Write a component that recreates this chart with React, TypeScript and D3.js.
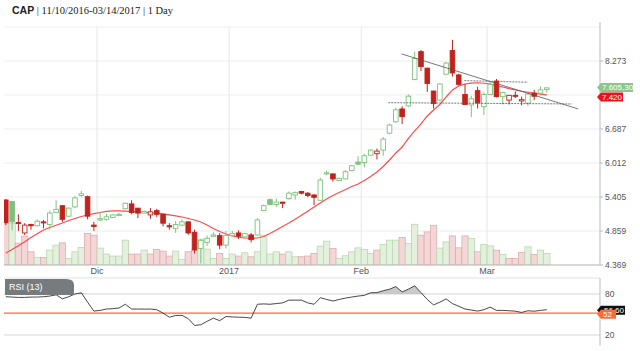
import React from 'react';
import * as d3 from 'd3';

// header
const symbol = 'CAP';
const range = '11/10/2016-03/14/2017';
const period = '1 Day';

// daily OHLC, 11/10/2016 .. 03/14/2017
const opens = [5.355, 5.33, 4.99, 4.83, 4.96, 4.94, 5.0, 4.96, 5.15, 5.26, 5.09, 5.24, 5.43, 5.41, 4.95, 5.03, 5.04, 5.07, 5.1, 5.21, 5.29, 5.22, 5.14, 5.11, 5.18, 5.12, 4.94, 4.9, 4.95, 5.0, 4.84, 4.6, 4.69, 4.78, 4.79, 4.65, 4.79, 4.83, 4.77, 4.8, 4.8, 5.18, 5.36, 5.28, 5.32, 5.38, 5.44, 5.5, 5.47, 5.44, 5.35, 5.81, 5.81, 5.69, 5.72, 5.87, 6.03, 6.02, 6.16, 6.19, 6.26, 6.6, 6.84, 7.12, 7.19, 7.81, 8.52, 8.09, 7.53, 7.32, 7.94, 8.55, 7.92, 7.45, 7.21, 7.54, 7.17, 7.45, 7.77, 7.4, 7.32, 7.43, 7.3, 7.25, 7.48, 7.48, 7.57];
const highs = [5.37, 5.34, 5.12, 4.98, 4.97, 5.04, 5.03, 5.18, 5.35, 5.27, 5.23, 5.42, 5.51, 5.43, 5.0, 5.16, 5.13, 5.12, 5.14, 5.31, 5.35, 5.22, 5.18, 5.22, 5.21, 5.13, 4.98, 5.01, 5.04, 5.01, 4.88, 4.74, 4.79, 4.84, 4.83, 4.86, 4.86, 4.87, 4.83, 4.83, 5.06, 5.28, 5.38, 5.38, 5.32, 5.5, 5.5, 5.51, 5.49, 5.45, 5.74, 5.87, 5.82, 5.74, 5.88, 5.98, 6.14, 6.19, 6.28, 6.29, 6.52, 6.8, 7.15, 7.18, 7.45, 8.52, 8.56, 8.1, 7.54, 7.72, 8.25, 8.84, 7.95, 7.7, 7.42, 7.63, 7.5, 7.74, 7.82, 7.51, 7.44, 7.52, 7.4, 7.48, 7.56, 7.64, 7.62];
const lows = [4.95, 4.87, 4.86, 4.8, 4.88, 4.93, 4.9, 4.88, 5.14, 5.0, 5.08, 5.22, 5.41, 5.04, 4.86, 5.01, 5.02, 5.06, 5.09, 5.2, 5.12, 5.06, 5.13, 5.05, 5.08, 4.93, 4.88, 4.83, 4.93, 4.8, 4.53, 4.39, 4.64, 4.77, 4.59, 4.6, 4.78, 4.74, 4.76, 4.69, 4.79, 5.17, 5.27, 5.24, 5.22, 5.36, 5.36, 5.45, 5.4, 5.27, 5.34, 5.79, 5.67, 5.68, 5.71, 5.86, 5.97, 5.93, 6.15, 6.08, 6.15, 6.58, 6.82, 6.79, 7.17, 7.79, 8.02, 7.51, 7.13, 7.3, 7.92, 7.88, 7.66, 7.21, 6.94, 7.13, 6.99, 7.44, 7.38, 7.22, 7.22, 7.37, 7.2, 7.19, 7.32, 7.46, 7.49];
const closes = [4.99, 5.0, 4.975, 4.95, 4.94, 5.01, 4.99, 5.14, 5.2, 5.04, 5.22, 5.39, 5.46, 5.09, 4.93, 5.05, 5.08, 5.11, 5.12, 5.3, 5.15, 5.14, 5.165, 5.16, 5.12, 4.98, 4.93, 4.96, 5.0, 4.83, 4.58, 4.72, 4.75, 4.8, 4.65, 4.79, 4.82, 4.78, 4.82, 4.73, 5.03, 5.26, 5.28, 5.32, 5.3, 5.47, 5.48, 5.47, 5.43, 5.4, 5.7, 5.83, 5.72, 5.73, 5.85, 5.96, 5.99, 6.15, 6.26, 6.24, 6.48, 6.77, 7.1, 6.95, 7.41, 8.34, 8.13, 7.71, 7.24, 7.7, 8.22, 7.97, 7.69, 7.22, 7.35, 7.26, 7.45, 7.69, 7.4, 7.5, 7.43, 7.41, 7.33, 7.46, 7.41, 7.56, 7.605];
const closeBefore = 5.4;
// volume, millions
const volumes = [4.17, 4.2, 2.2, 2.9, 1.33, 0.77, 0.77, 1.5, 2.0, 2.23, 0.67, 1.33, 1.77, 3.17, 3.0, 1.7, 1.1, 0.9, 0.9, 2.5, 1.1, 1.1, 1.5, 1.1, 1.57, 1.4, 0.9, 1.4, 0.57, 1.33, 1.5, 2.6, 1.6, 0.67, 1.17, 0.67, 1.1, 0.9, 1.23, 0.83, 1.33, 3.0, 1.1, 1.33, 1.1, 1.33, 0.83, 0.83, 0.9, 1.17, 1.9, 2.4, 1.67, 0.67, 0.93, 1.33, 1.73, 1.57, 1.17, 1.5, 2.07, 2.5, 2.5, 2.77, 2.17, 4.1, 3.0, 3.33, 4.0, 1.7, 2.33, 2.93, 1.73, 2.93, 2.67, 1.33, 2.07, 1.93, 1.5, 1.07, 0.67, 0.67, 1.27, 1.83, 1.07, 1.5, 1.17];
// moving average
const maValues = [4.536, 4.586, 4.641, 4.698, 4.76, 4.819, 4.875, 4.913, 4.947, 4.983, 5.022, 5.054, 5.085, 5.109, 5.13, 5.149, 5.166, 5.174, 5.174, 5.17, 5.164, 5.157, 5.151, 5.145, 5.138, 5.128, 5.112, 5.096, 5.077, 5.054, 5.03, 4.998, 4.952, 4.898, 4.852, 4.814, 4.784, 4.765, 4.754, 4.75, 4.754, 4.777, 4.822, 4.875, 4.929, 4.983, 5.042, 5.104, 5.17, 5.239, 5.305, 5.372, 5.431, 5.482, 5.534, 5.586, 5.63, 5.692, 5.764, 5.846, 5.947, 6.069, 6.204, 6.321, 6.492, 6.646, 6.793, 6.966, 7.098, 7.221, 7.392, 7.556, 7.651, 7.699, 7.719, 7.728, 7.717, 7.699, 7.663, 7.627, 7.587, 7.556, 7.525, 7.502, 7.48, 7.46, 7.44];
// RSI (13)
const rsiValues = [76, 75.5, 75, 75, 75.5, 75.5, 76, 77, 78.8, 73, 76, 80, 81.8, 68, 55, 56, 58, 58.5, 59.5, 65, 58, 58, 57.8, 58, 57, 52, 46, 48.5, 48.8, 44, 34, 35, 40, 44.6, 41, 47, 46.5, 46, 45.8, 44.6, 65, 65.5, 65, 66, 67, 71, 71, 71, 67, 65, 74.6, 72, 69.8, 72, 74, 75.5, 77, 78, 81.8, 82, 84.8, 87, 90.8, 83, 87, 92, 82, 72, 64, 68, 72.8, 66, 62, 58, 56.5, 55, 57, 60.8, 56, 56, 55.5, 54.8, 53, 55.5, 54.8, 56, 57];

const priceTicks = [4.369, 4.859, 5.405, 6.012, 6.687, 7.439, 8.273];
const hiddenTick = 7.439; // covered by the price tags in the reference
const monthLabels = ['Dic', '2017', 'Feb', 'Mar'];
const monthStarts = [15, 36, 57, 77];
const rsiTicks = [20, 80];
const rsiLevel = 52;

// drawn trend lines (bar index, price)
const trendFromIdx = [62.94, 60.8, 72.9];
const trendFromPrice = [8.457, 7.261, 7.78];
const trendToIdx = [91.0, 89.97, 82.97];
const trendToPrice = [7.12, 7.232, 7.741];
const trendDashed = [false, true, true];

const lastTag = '7.605,30';
const maTag = '7.420';
const rsiTag = '56.60';

const GREEN = '#7cc27c';
const RED = '#c1221c';
const SANS = '"Liberation Sans", Arial, sans-serif';
const SERIF = '"Liberation Serif", Georgia, serif';

function tagPath(x: number, y: number, w: number) {
  return `M${x},${y} L${x + 4},${y - 4.5} L${x + w},${y - 4.5} L${x + w},${y + 4.5} L${x + 4},${y + 4.5} Z`;
}

export default function App() {
  const left = 4, right = 600, top = 27, bottom = 265;
  const rTop = 278, rBottom = 346;

  const x = d3.scaleLinear().domain([0, 86]).range([5.8, 546.8]);
  const step = x(1) - x(0);
  const y = d3.scaleLog().domain([4.369, 8.273]).range([265, 61]);
  const yVol = d3.scaleLinear().domain([0, d3.max(volumes) as number]).range([bottom, bottom - 41.7]);
  const yR = d3.scaleLinear().domain([20, 80]).range([335, 294]);

  const maLine = d3.line<number>().x((_, i) => x(i)).y(d => y(d))(maValues) as string;
  const rsiLine = d3.line<number>().x((_, i) => x(i)).y(d => yR(d))(rsiValues) as string;
  const rsiArea = d3.area<number>().x((_, i) => x(i)).y0(yR(80)).y1(d => yR(Math.max(d, 80)))(rsiValues) as string;

  const bodyW = 4.6;
  const yLast = y(closes[closes.length - 1]) - 0.5;
  const yMa = yLast + 9.5;
  const yRsiLevel = yR(rsiLevel) + 1;
  const yRsiLast = yRsiLevel - 4;

  return (
    <div style={{ position: 'absolute', left: 0, top: 0 }}>
      <svg width={640} height={351} style={{ display: 'block', background: '#fff' }}>
        <defs>
          <clipPath id="main-clip">
            <rect x={left} y={top} width={right - left} height={bottom - top} />
          </clipPath>
          <clipPath id="rsi-clip">
            <rect x={left} y={rTop} width={right - left} height={rBottom - rTop} />
          </clipPath>
        </defs>

        <text x={12} y={14} fontSize={10.5} fill="#222">
          <tspan fontFamily={SANS} fontWeight="bold">{symbol}</tspan>
          <tspan fontFamily={SERIF}>{` | ${range} | ${period}`}</tspan>
        </text>

        {/* grid */}
        <line x1={left} x2={right} y1={top} y2={top} stroke="#eeeeee" />
        {priceTicks.map(t => (
          <line key={t} x1={left} x2={right} y1={y(t)} y2={y(t)} stroke="#ececec" />
        ))}
        {monthStarts.map(m => (
          <line key={m} x1={x(m - 0.5)} x2={x(m - 0.5)} y1={top} y2={bottom} stroke="#e6e6e6" />
        ))}

        <g clipPath="url(#main-clip)">
          {/* volume */}
          {volumes.map((v, i) => {
            const prev = i === 0 ? closeBefore : closes[i - 1];
            const up = closes[i] >= prev;
            return (
              <rect key={i} x={x(i) - step / 2} y={yVol(v)} width={step} height={bottom - yVol(v)}
                fill={up ? '#e3f0de' : '#f5d6d6'} stroke={up ? '#b9d7b1' : '#dbaeae'} strokeWidth={0.8} />
            );
          })}

          <path d={maLine} fill="none" stroke="#ff4a4a" strokeWidth={1.2} />

          {/* candles */}
          {closes.map((c, i) => {
            const o = opens[i];
            const prev = i === 0 ? closeBefore : closes[i - 1];
            const col = c >= prev ? GREEN : RED;
            const filled = c < o;
            const yTop = y(Math.max(o, c));
            const yBot = y(Math.min(o, c));
            const h = Math.max(yBot - yTop, 1);
            return (
              <g key={i}>
                <line x1={x(i)} x2={x(i)} y1={y(highs[i])} y2={y(lows[i])} stroke={col} strokeWidth={1} />
                <rect x={x(i) - bodyW / 2} y={yTop} width={bodyW} height={h}
                  fill={filled ? col : '#fff'} stroke={col} strokeWidth={0.9} />
              </g>
            );
          })}

          {trendFromIdx.map((f, k) => (
            <line key={k} x1={x(f)} y1={y(trendFromPrice[k])} x2={x(trendToIdx[k])} y2={y(trendToPrice[k])}
              stroke="#555" strokeWidth={0.8} strokeDasharray={trendDashed[k] ? '2,1' : undefined} />
          ))}
        </g>

        {/* right axis */}
        <line x1={right} x2={right} y1={top - 5} y2={bottom} stroke="#bbb" />
        <line x1={left} x2={right} y1={bottom} y2={bottom} stroke="#bbb" />
        {priceTicks.map(t => (
          <g key={t}>
            <line x1={right} x2={right + 3} y1={y(t)} y2={y(t)} stroke="#bbb" />
            {t !== hiddenTick && (
              <text x={right + 5} y={y(t) + 3} fontSize={8.5} fontFamily={SANS} fill="#555">{t.toFixed(3)}</text>
            )}
          </g>
        ))}
        {monthStarts.map((m, k) => (
          <text key={m} x={x(m - 0.5)} y={274} fontSize={9} fontFamily={SANS} fill="#555" textAnchor="middle">
            {monthLabels[k]}
          </text>
        ))}

        {/* price tags */}
        <path d={tagPath(597, yLast, 36)} fill="#8cc68c" />
        <text x={602} y={yLast + 3} fontSize={8} fontFamily={SANS} fill="#fff">{lastTag}</text>
        <path d={tagPath(597, yMa, 26)} fill="#e8141b" />
        <text x={602} y={yMa + 3} fontSize={8} fontFamily={SANS} fill="#fff">{maTag}</text>

        {/* RSI panel */}
        <line x1={left} x2={right} y1={rTop} y2={rTop} stroke="#e2e2e2" />
        {rsiTicks.map(t => (
          <g key={t}>
            <line x1={left} x2={right} y1={yR(t)} y2={yR(t)} stroke="#d6d6d6" />
            <text x={right + 5} y={yR(t) + 3} fontSize={8.5} fontFamily={SANS} fill="#555">{t}</text>
          </g>
        ))}
        <line x1={right} x2={right} y1={rTop} y2={rBottom} stroke="#bbb" />
        <g clipPath="url(#rsi-clip)">
          <path d={rsiArea} fill="#bdbdbd" opacity={0.8} />
          <line x1={left} x2={right} y1={yR(rsiLevel)} y2={yR(rsiLevel)} stroke="#ff6a33" strokeWidth={1.2} />
          <path d={rsiLine} fill="none" stroke="#333" strokeWidth={0.9} />
        </g>
        <path d={`M${left + 1},${rTop + 1} L${left + 62},${rTop + 1} Q${left + 70},${rTop + 1} ${left + 70},${rTop + 7} L${left + 70},${rTop + 17} L${left + 1},${rTop + 17} Z`}
          fill="#767b7e" />
        <text x={left + 5} y={rTop + 12} fontSize={9} fontFamily={SANS} fill="#fff">RSI (13)</text>

        <path d={tagPath(597, yRsiLast, 28)} fill="#111" />
        <text x={624} y={yRsiLast + 3} fontSize={8} fontFamily={SANS} fill="#fff" textAnchor="end">{rsiTag}</text>
        <path d={tagPath(597, yRsiLevel, 19)} fill="#ff6a33" />
        <text x={603} y={yRsiLevel + 3} fontSize={8} fontFamily={SANS} fill="#fff">{rsiLevel}</text>
      </svg>
    </div>
  );
}
